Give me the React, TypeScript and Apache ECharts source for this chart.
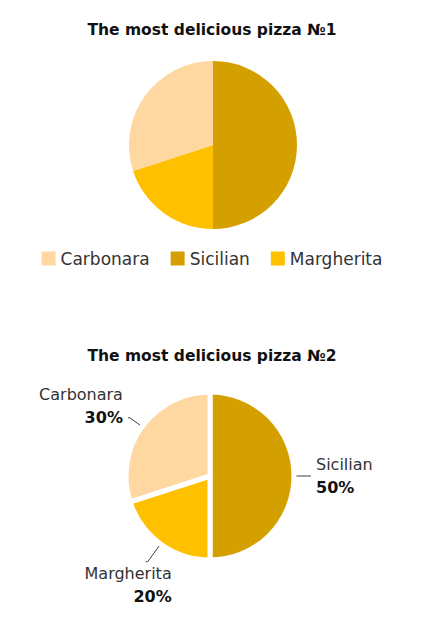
import React, { useEffect, useRef } from 'react';
import * as echarts from 'echarts';

// Legend order
const categories = ['Carbonara', 'Sicilian', 'Margherita'];
// Slice order (clockwise from 12 o'clock)
const sliceNames = ['Sicilian', 'Margherita', 'Carbonara'];
const sliceValues = [50, 20, 30];
const titles = ['The most delicious pizza №1', 'The most delicious pizza №2'];

const palette: Record<string, string> = {
  Carbonara: '#FFD7A0',
  Sicilian: '#D4A000',
  Margherita: '#FFC000',
};

const FONT = '"DejaVu Sans", sans-serif';

const labelFormat: Record<string, string> = {
  Sicilian: '{n|{b}}\n{p|{d}%}',
  Carbonara: '{n|{b}}\n{p|{d}%}\n{n| }',
  Margherita: '{n|{b}}\n{p|{d}%}',
};
const leaderLength: Record<string, number> = {
  Sicilian: 15,
  Carbonara: 15,
  Margherita: 22,
};

export default function App() {
  const ref = useRef<HTMLDivElement>(null);
  useEffect(() => {
    document.body.style.margin = '0';
    if (!ref.current) return;
    const chart = echarts.init(ref.current, undefined, { renderer: 'svg' });
    const baseData = sliceNames.map((name, i) => ({
      name,
      value: sliceValues[i],
      itemStyle: { color: palette[name] },
    }));
    const labelledData = sliceNames.map((name, i) => ({
      name,
      value: sliceValues[i],
      itemStyle: { color: palette[name] },
      label: { formatter: labelFormat[name] },
      labelLine: { length: leaderLength[name] },
    }));
    chart.setOption({
      animation: false,
      title: [
        {
          text: titles[0],
          left: 'center',
          top: 17,
          textStyle: { fontFamily: FONT, fontSize: 15.5, fontWeight: 'bold', color: '#111' },
        },
        {
          text: titles[1],
          left: 'center',
          top: 343,
          textStyle: { fontFamily: FONT, fontSize: 15.5, fontWeight: 'bold', color: '#111' },
        },
      ],
      legend: {
        data: categories,
        left: 'center',
        top: 245,
        icon: 'rect',
        itemWidth: 14,
        itemHeight: 14,
        itemGap: 21,
        textStyle: { fontFamily: FONT, fontSize: 17, color: '#333' },
      },
      series: [
        {
          type: 'pie',
          center: [213, 145],
          radius: 84,
          startAngle: 90,
          clockwise: true,
          label: { show: false },
          labelLine: { show: false },
          emphasis: { disabled: true },
          data: baseData,
        },
        {
          type: 'pie',
          center: [210, 476],
          radius: 84,
          startAngle: 90,
          clockwise: true,
          legendHoverLink: false,
          emphasis: { disabled: true },
          itemStyle: { borderColor: '#fff', borderWidth: 5 },
          label: {
            show: true,
            position: 'outside',
            fontFamily: FONT,
            rich: {
              n: { fontFamily: FONT, fontSize: 16, color: '#333', lineHeight: 23 },
              p: { fontFamily: FONT, fontSize: 16, fontWeight: 'bold', color: '#111', lineHeight: 23 },
            },
          },
          labelLine: {
            show: true,
            length: 15,
            length2: 2,
            lineStyle: { color: '#404040', width: 1 },
          },
          labelLayout: (p: any) => (p.dataIndex === 1 ? { dx: 31, dy: 23 } : {}),
          data: labelledData,
        },
      ],
    });
    return () => chart.dispose();
  }, []);
  return <div ref={ref} style={{ width: 424, height: 628 }} />;
}
